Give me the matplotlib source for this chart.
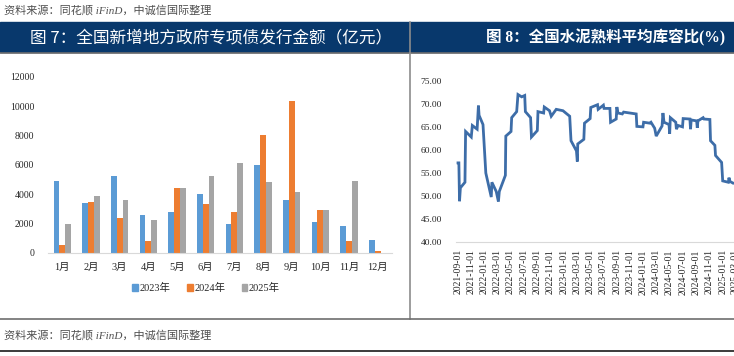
import matplotlib.pyplot as plt
import matplotlib.dates as mdates
from matplotlib.patches import Rectangle, Patch
from matplotlib.lines import Line2D
import numpy as np
import pandas as pd

#=== TAILLE (pixels) ===
W, H = 734, 356
def fx(x): return x / W
def fy(y): return 1 - y / H

plt.rcParams['font.family'] = ['Liberation Serif', 'Noto Sans CJK SC']

#=== DONNEES : fig 7 ===
months = ['1月', '2月', '3月', '4月', '5月', '6月', '7月', '8月', '9月', '10月', '11月', '12月']
v2023 = [4900, 3400, 5250, 2600, 2800, 4030, 1980, 6000, 3620, 2120, 1840, 900]
v2024 = [550, 3500, 2380, 830, 4400, 3340, 2800, 8050, 10350, 2950, 830, 150]
v2025 = [2000, 3900, 3630, 2250, 4450, 5270, 6170, 4870, 4180, 2940, 4930, np.nan]
series_labels = ['2023年', '2024年', '2025年']

#=== DONNEES : fig 8 ===
dates = ['2021-09-01', '2021-09-05', '2021-09-08', '2021-09-12', '2021-10-03', '2021-10-06',
         '2021-11-01', '2021-11-06', '2021-11-28', '2021-12-04', '2021-12-07', '2021-12-25',
         '2022-01-07', '2022-02-01', '2022-02-04', '2022-02-24', '2022-03-06', '2022-03-10',
         '2022-04-07', '2022-04-09', '2022-05-03', '2022-05-06', '2022-05-29', '2022-06-04',
         '2022-06-21', '2022-07-05', '2022-07-08', '2022-08-01', '2022-08-05', '2022-09-01',
         '2022-09-04', '2022-09-30', '2022-10-03', '2022-10-27', '2022-11-04', '2022-11-27',
         '2022-12-28', '2023-01-28', '2023-02-03', '2023-02-28', '2023-03-04', '2023-03-06',
         '2023-04-03', '2023-04-06', '2023-05-02', '2023-05-05', '2023-06-05', '2023-06-08',
         '2023-07-02', '2023-07-05', '2023-08-01', '2023-08-04', '2023-08-30', '2023-09-02',
         '2023-09-07', '2023-09-27', '2023-10-03', '2023-11-30', '2023-12-03', '2023-12-31',
         '2024-01-03', '2024-02-01', '2024-02-06', '2024-02-23', '2024-03-01', '2024-03-28',
         '2024-04-01', '2024-04-06', '2024-04-29', '2024-05-02', '2024-05-05', '2024-05-30',
         '2024-06-02', '2024-06-10', '2024-06-30', '2024-07-03', '2024-08-03', '2024-08-06',
         '2024-08-09', '2024-09-03', '2024-09-06', '2024-09-09', '2024-10-03', '2024-10-07',
         '2024-11-03', '2024-11-06', '2024-11-26', '2024-11-29', '2024-12-27', '2025-01-01',
         '2025-01-27', '2025-01-30', '2025-02-03', '2025-02-18', '2025-03-10']
ratio = [57.2, 57.2, 48.9, 51.8, 53.0, 64.0,
         62.8, 65.3, 64.5, 69.6, 67.5, 65.5,
         55.0, 49.8, 53.0, 51.0, 48.8, 51.0,
         54.5, 63.0, 64.0, 67.0, 68.3, 72.0,
         71.5, 71.8, 68.3, 67.0, 62.8, 64.2,
         68.3, 68.0, 69.3, 68.5, 67.3, 68.8,
         68.5, 67.3, 62.0, 59.8, 57.5, 61.3,
         62.3, 65.8, 66.8, 69.2, 69.8, 68.8,
         69.7, 69.0, 69.0, 66.0, 66.7, 69.3,
         68.0, 67.8, 68.2, 67.8, 65.1, 65.0,
         66.0, 65.8, 66.0, 64.7, 63.0, 65.2,
         68.0, 66.0, 65.5, 63.5, 67.0, 66.0,
         64.5, 65.3, 65.0, 66.8, 66.7, 64.5,
         66.5, 66.3, 64.8, 66.3, 67.0, 66.7,
         66.6, 62.0, 61.0, 58.8, 57.3, 53.3,
         53.0, 54.0, 53.2, 52.8, 52.8]
date_ticks = pd.date_range('2021-09-01', '2025-05-01', freq='2MS')

c23, c24, c25 = '#5B9BD5', '#ED7D31', '#A5A5A5'
navy = '#08386C'
txt = '#262626'

fig = plt.figure(figsize=(W / 100, H / 100), dpi=100)

#=== CADRE ===
fig.add_artist(Rectangle((fx(0), fy(52)), fx(409), fy(22) - fy(52), color=navy, transform=fig.transFigure, zorder=0))
fig.add_artist(Rectangle((fx(410), fy(52)), fx(734 - 410), fy(22) - fy(52), color=navy, transform=fig.transFigure, zorder=0))
fig.add_artist(Line2D([0, 1], [fy(52.5)] * 2, color='#6E6E6E', lw=1.2, transform=fig.transFigure))
fig.add_artist(Line2D([fx(409.5)] * 2, [fy(22), fy(318.5)], color='#8C8C8C', lw=1.2, transform=fig.transFigure))
fig.add_artist(Line2D([0, 1], [fy(318.5)] * 2, color='#6E6E6E', lw=1.2, transform=fig.transFigure))
fig.add_artist(Line2D([0, 1], [fy(351)] * 2, color='#1A1A1A', lw=1.2, transform=fig.transFigure))

fig.text(fx(30), fy(37.5), '图 7：全国新增地方政府专项债发行金额（亿元）', color='white', fontsize=12,
         va='center', ha='left', family=['Noto Sans CJK SC'])
fig.text(fx(725), fy(37.5), '图 8：全国水泥熟料平均库容比(%)', color='white', fontsize=11.2,
         va='center', ha='right', weight='bold', family=['Liberation Serif', 'Noto Sans CJK SC'])
for yy in (10, 335):
    fig.text(fx(4), fy(yy), '资料来源：同花顺 iFinD，中诚信国际整理', color='#505050', fontsize=8,
             va='center', ha='left', style='italic')

#=== FIG 7 : BARRES ===
ax1 = fig.add_axes([fx(48), fy(253), fx(392) - fx(48), fy(77) - fy(253)])
x = np.arange(len(months))
bw = 0.2
ax1.bar(x - bw, v2023, bw, color=c23, label=series_labels[0])
ax1.bar(x, v2024, bw, color=c24, label=series_labels[1])
ax1.bar(x + bw, v2025, bw, color=c25, label=series_labels[2])
ax1.set_xlim(-0.5, len(months) - 0.5)
ax1.set_ylim(0, 12000)
ax1.set_yticks(range(0, 12001, 2000))
ax1.set_xticks(x)
ax1.set_xticklabels(months)
for s in ('top', 'right', 'left'):
    ax1.spines[s].set_visible(False)
ax1.spines['bottom'].set_color('#D9D9D9')
ax1.tick_params(axis='y', length=0, pad=10, labelsize=7, labelcolor=txt)
ax1.tick_params(axis='x', length=0, pad=7, labelsize=7.5, labelcolor=txt)
ax1.patch.set_alpha(0)

handles = [Patch(color=c, label=l) for c, l in zip((c23, c24, c25), series_labels)]
fig.legend(handles=handles, loc='center', bbox_to_anchor=(fx(206), fy(288)), ncol=3, frameon=False,
           fontsize=7.5, handlelength=0.55, handleheight=0.55, handletextpad=0.15, columnspacing=1.6,
           labelcolor=txt)

#=== FIG 8 : LIGNE ===
d0 = pd.Timestamp('2021-09-01')
ppd = (722.7 - 458) / (pd.Timestamp('2025-01-01') - d0).days
left_px, right_px = 456, 770
ax2 = fig.add_axes([fx(left_px), fy(242.3), fx(right_px) - fx(left_px), fy(80.7) - fy(242.3)])
ax2.plot(pd.to_datetime(dates), ratio, color='#3D6DA8', lw=2.0, solid_joinstyle='miter')
ax2.set_xlim(d0 - pd.Timedelta(days=(458 - left_px) / ppd), d0 + pd.Timedelta(days=(right_px - 458) / ppd))
ax2.set_ylim(40, 75)
ax2.set_yticks(range(40, 76, 5))
ax2.yaxis.set_major_formatter(plt.FuncFormatter(lambda v, p: f'{v:.2f}'))
ax2.set_xticks(date_ticks)
ax2.xaxis.set_major_formatter(mdates.DateFormatter('%Y-%m-%d'))
for s in ('top', 'right', 'left'):
    ax2.spines[s].set_visible(False)
ax2.spines['bottom'].set_color('#D9D9D9')
ax2.tick_params(axis='y', length=0, pad=10, labelsize=6.8, labelcolor=txt)
ax2.tick_params(axis='x', length=0, pad=5, labelsize=7, labelcolor=txt, rotation=90)
ax2.patch.set_alpha(0)

plt.savefig('out.png', dpi=100)
